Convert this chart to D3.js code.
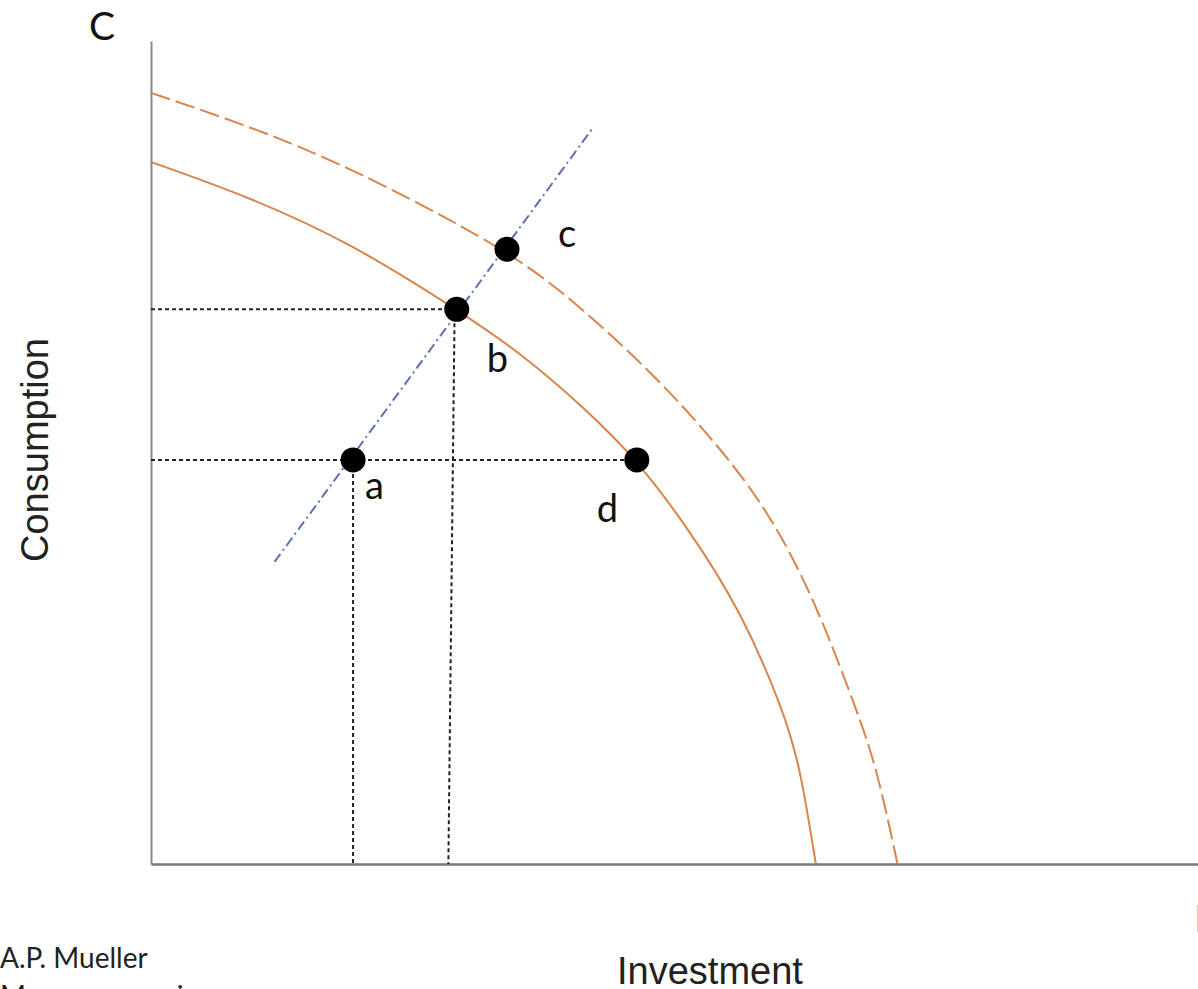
<!DOCTYPE html>
<html>
<head>
<meta charset="utf-8">
<script src="https://cdn.jsdelivr.net/npm/d3@7"></script>
<style>
    body { margin: 0; background: #fff; }
    svg { display: block; }
</style>
</head>
<body>
<svg id="drawing_region"></svg>
<script>
// investment (I) and consumption (C) in arbitrary units 0..100
const ppfInner = [
    [0, 85.3], [9.5, 81.0], [19.0, 75.5], [29.2, 67.4], [35.2, 62.2], [41.6, 55.2],
    [46.4, 49.1], [51.2, 41.0], [56.3, 30.9], [60.4, 18.7], [62.0, 11.8], [63.5, 0]
]
const ppfOuter = [
    [0, 93.7], [9.5, 89.6], [19.0, 84.7], [34.0, 74.7], [40.3, 68.5], [47.9, 59.7],
    [54.3, 50.7], [59.1, 42.6], [63.4, 32.1], [67.4, 18.7], [69.3, 11.8], [71.3, 0]
]
const growthPath = [[11.8, 36.7], [42.3, 89.6]]
const points = [
    {name: 'a', I: 19.3, C: 49.1},
    {name: 'b', I: 29.2, C: 67.4},
    {name: 'c', I: 34.0, C: 74.7},
    {name: 'd', I: 46.4, C: 49.1}
]
const guides = [
    [[0, 67.4], [29.2, 67.4]],
    [[0, 49.1], [46.4, 49.1]],
    [[19.3, 49.1], [19.3, 0]],
    [[29.0, 67.4], [28.4, 0]]
]

class PPFChart{
    constructor(config){
        this.config = {
            parent: config.parent,
            width: config.width || 1198,
            height: config.height || 989,
            margin: config.margin || {top: 41, bottom: 125, left: 151, right: 0}
        }
        this.init()
    }

    init(){
        let self = this
        let m = self.config.margin

        self.svg = d3.select(self.config.parent)
            .attr('width', self.config.width)
            .attr('height', self.config.height)

        self.x = d3.scaleLinear().domain([0, 100]).range([m.left, self.config.width - m.right])
        self.y = d3.scaleLinear().domain([0, 100]).range([self.config.height - m.bottom, m.top])

        self.line = d3.line()
            .x(d => self.x(d[0]))
            .y(d => self.y(d[1]))
        self.curve = d3.line()
            .x(d => self.x(d[0]))
            .y(d => self.y(d[1]))
            .curve(d3.curveBasis)
    }

    render(){
        let self = this

        // axes without ticks
        let xAxis = self.svg.append('g')
            .attr('transform', `translate(0,${self.y(0)})`)
            .call(d3.axisBottom(self.x).ticks(0).tickSizeOuter(0))
        let yAxis = self.svg.append('g')
            .attr('transform', `translate(${self.x(0)},0)`)
            .call(d3.axisLeft(self.y).ticks(0).tickSizeOuter(0))
        xAxis.select('.domain').attr('stroke', '#777').attr('stroke-width', 2.5)
        yAxis.select('.domain').attr('stroke', '#888').attr('stroke-width', 2)

        // guide lines
        self.svg.selectAll('.guide').data(guides).enter()
            .append('path')
            .attr('d', self.line)
            .attr('fill', 'none')
            .attr('stroke', '#222')
            .attr('stroke-width', 2)
            .attr('stroke-dasharray', '4,3')

        // production possibility frontiers
        self.svg.append('path')
            .attr('d', self.curve(ppfInner))
            .attr('fill', 'none')
            .attr('stroke', '#d9844a')
            .attr('stroke-width', 2)
        self.svg.append('path')
            .attr('d', self.curve(ppfOuter))
            .attr('fill', 'none')
            .attr('stroke', '#d9844a')
            .attr('stroke-width', 2)
            .attr('stroke-dasharray', '20,6')

        // growth line
        self.svg.append('path')
            .attr('d', self.line(growthPath))
            .attr('fill', 'none')
            .attr('stroke', '#5b72ad')
            .attr('stroke-width', 2)
            .attr('stroke-dasharray', '10,4,2,4')

        self.svg.selectAll('.pt').data(points).enter()
            .append('circle')
            .attr('cx', d => self.x(d.I))
            .attr('cy', d => self.y(d.C))
            .attr('r', 12.5)
            .attr('fill', '#000')

        let offsets = {a: [12, 39], b: [30, 63], c: [51, -2], d: [-40, 62]}
        self.svg.selectAll('.lbl').data(points).enter()
            .append('text')
            .attr('x', d => self.x(d.I) + offsets[d.name][0])
            .attr('y', d => self.y(d.C) + offsets[d.name][1])
            .attr('font-family', 'Lato, sans-serif')
            .attr('font-size', 38)
            .attr('fill', '#111')
            .text(d => d.name)

        // axis titles
        self.svg.append('text')
            .attr('x', 89).attr('y', 40)
            .attr('font-family', 'Lato, sans-serif')
            .attr('font-size', 39)
            .attr('fill', '#111')
            .text('C')
        self.svg.append('text')
            .attr('x', 1194).attr('y', 932)
            .attr('font-family', 'Liberation Sans, Arial, sans-serif')
            .attr('font-size', 38)
            .attr('fill', '#999')
            .text('I')
        self.svg.append('text')
            .attr('transform', 'translate(48,450) rotate(-90)')
            .attr('text-anchor', 'middle')
            .attr('font-family', 'Liberation Sans, Arial, sans-serif')
            .attr('font-size', 38)
            .attr('fill', '#222')
            .text('Consumption')
        self.svg.append('text')
            .attr('x', 617).attr('y', 984)
            .attr('font-family', 'Liberation Sans, Arial, sans-serif')
            .attr('font-size', 38)
            .attr('fill', '#222')
            .text('Investment')

        // footer
        self.svg.append('text')
            .attr('x', 0).attr('y', 968)
            .attr('font-family', 'Lato, sans-serif')
            .attr('font-size', 28)
            .attr('fill', '#222')
            .text('A.P. Mueller')
        self.svg.append('text')
            .attr('x', 0).attr('y', 1006)
            .attr('font-family', 'Lato, sans-serif')
            .attr('font-size', 28)
            .attr('fill', '#222')
            .text('Macroeconomics')
    }
}

const chart = new PPFChart({parent: '#drawing_region', width: 1198, height: 989})
chart.render()
</script>
</body>
</html>
